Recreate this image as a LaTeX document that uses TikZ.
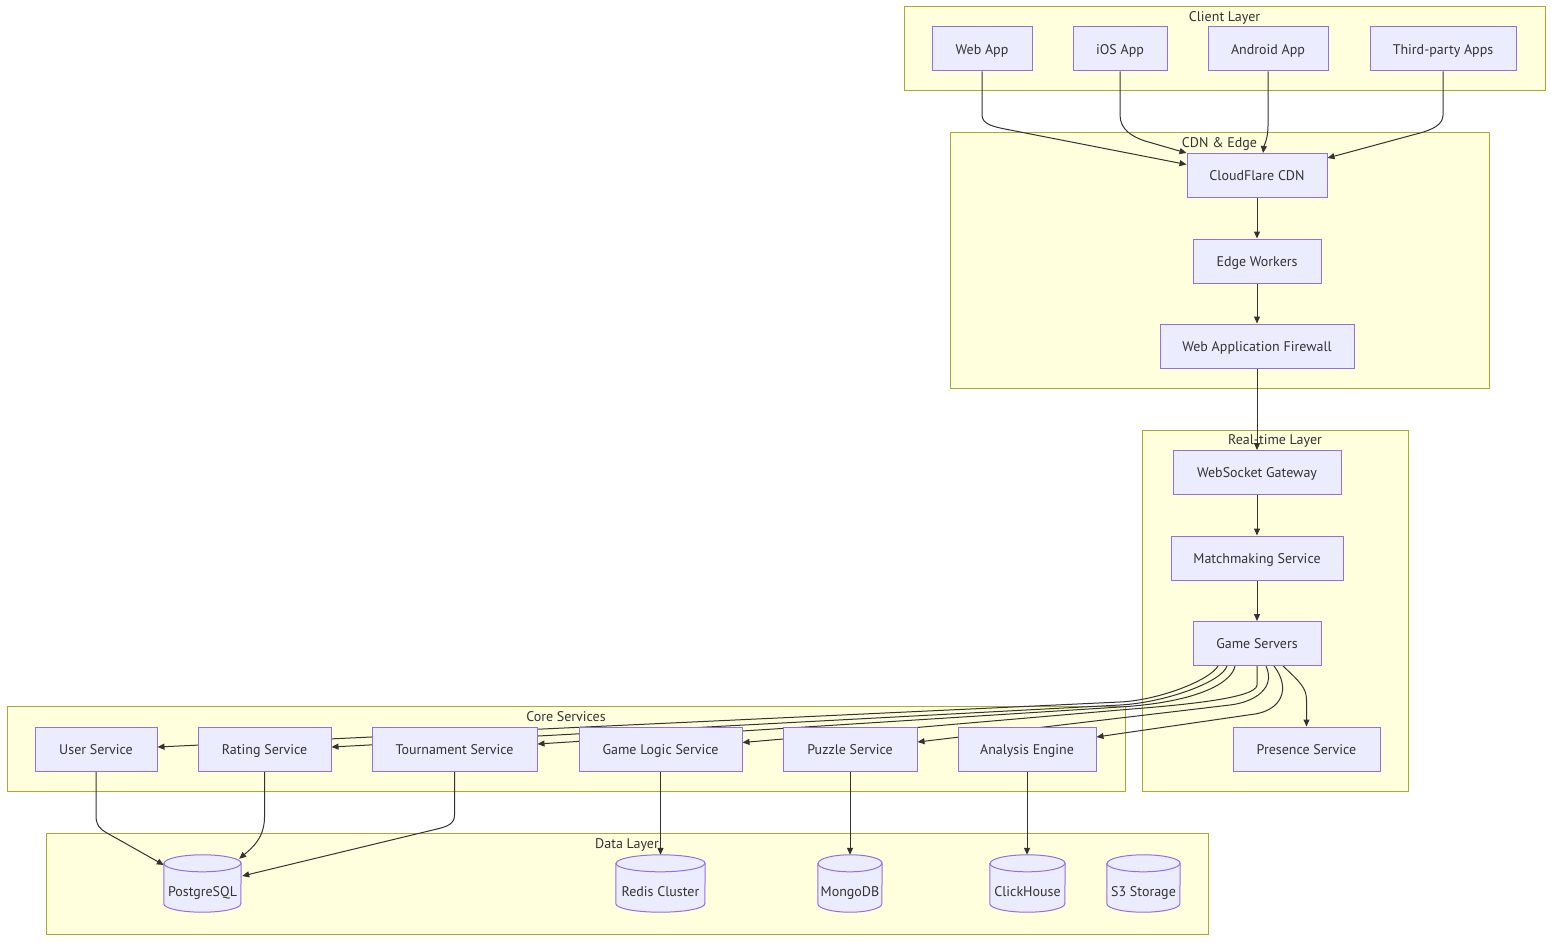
\documentclass[tikz,border=0pt]{standalone}
\usepackage{fontspec}
\setmainfont{PT Sans}
\usetikzlibrary{arrows.meta,calc}
\definecolor{nodefill}{HTML}{ECECFF}
\definecolor{nodeline}{HTML}{9370DB}
\definecolor{clfill}{HTML}{FFFFDE}
\definecolor{clline}{HTML}{AAAA33}
\definecolor{ink}{HTML}{333333}
\pgfdeclarelayer{bg}
\pgfdeclarelayer{edges}
\pgfsetlayers{bg,edges,main}
\newcommand\dbcyl[5]{%
  \path (#2,#3) node[minimum width={2*#4*1pt}, minimum height=57pt, inner sep=0pt, draw=none] (#1) {};
  \draw[dbstyle] ($(#1.north west)+(0,-8.5)$) -- ($(#1.south west)+(0,8.5)$)
    arc[start angle=180, end angle=360, x radius=#4pt, y radius=8.5pt]
    -- ($(#1.north east)+(0,-8.5)$)
    arc[start angle=0, end angle=180, x radius=#4pt, y radius=8.5pt] -- cycle;
  \draw[dbedge] ($(#1.north west)+(0,-8.5)$) arc[start angle=180, end angle=360, x radius=#4pt, y radius=8.5pt];
  \node[txt, inner sep=0pt] (#1-label) at ($(#1.center)+(0,-7.5)$) {#5};
}
\begin{document}
\begin{tikzpicture}[x=1pt, y=1pt, font=\fontsize{14}{16}\selectfont, text=ink,
  txt/.style={text height=12.5pt, text depth=2pt},
  box/.style={txt, draw=nodeline, fill=nodefill, line width=1pt, inner sep=0pt, minimum height=44pt},
  dbstyle/.style={draw=nodeline, fill=nodefill, line width=1pt},
  dbedge/.style={draw=nodeline, line width=1pt},
  cluster/.style={draw=clline, fill=clfill, line width=1pt},
  ctitle/.style={txt, inner sep=0pt},
  conn/.style={draw=ink, line width=1pt, -{Triangle[length=7pt,width=6pt]}}]
\useasboundingbox (0,0) rectangle (1568,-952);

\begin{pgfonlayer}{bg}
  \fill[white] (0,0) rectangle (1568,-952);
  \draw[cluster] (904,-7) rectangle (1545,-91);
  \node[ctitle] (t-client) at (1224.5,-16.5) {Client Layer};
  \draw[cluster] (950,-133) rectangle (1489,-388);
  \node[ctitle] (t-cdn) at (1219.5,-142.5) {CDN \& Edge};
  \draw[cluster] (1142,-430) rectangle (1408,-791);
  \node[ctitle] (t-rt) at (1275,-439.5) {Real-time Layer};
  \draw[cluster] (7,-706) rectangle (1125,-791);
  \node[ctitle] (t-core) at (566,-716.5) {Core Services};
  \draw[cluster] (46,-833) rectangle (1208,-934);
  \node[ctitle] (t-data) at (627,-843.5) {Data Layer};
\end{pgfonlayer}

% client layer
\node[box, minimum width=100pt] (webapp) at (982,-49) {Web App};
\node[box, minimum width=94pt] (ios) at (1120,-49) {iOS App};
\node[box, minimum width=120pt] (android) at (1268,-49) {Android App};
\node[box, minimum width=146pt] (third) at (1443,-49) {Third-party Apps};
% cdn & edge
\node[box, minimum width=140pt] (cdn) at (1257,-175.5) {CloudFlare CDN};
\node[box, minimum width=128pt] (edgew) at (1257,-261) {Edge Workers};
\node[box, minimum width=194pt] (waf) at (1257,-346) {Web Application Firewall};
% real-time
\node[box, minimum width=168pt] (ws) at (1257,-472.5) {WebSocket Gateway};
\node[box, minimum width=172pt] (mm) at (1257,-558) {Matchmaking Service};
\node[box, minimum width=128pt] (gs) at (1257,-643.5) {Game Servers};
\node[box, minimum width=147pt] (presence) at (1306.5,-749) {Presence Service};
% core services
\node[box, minimum width=122pt] (user) at (96,-749) {User Service};
\node[box, minimum width=133pt] (rating) at (264.5,-749) {Rating Service};
\node[box, minimum width=165pt] (tour) at (454.5,-749) {Tournament Service};
\node[box, minimum width=163pt] (gl) at (660.5,-749) {Game Logic Service};
\node[box, minimum width=134pt] (puzzle) at (850,-749) {Puzzle Service};
\node[box, minimum width=138pt] (analysis) at (1027,-749) {Analysis Engine};
% data layer
\dbcyl{pg}{202.5}{-883.5}{38.5}{PostgreSQL}
\dbcyl{redis}{660.5}{-883.5}{44.5}{Redis Cluster}
\dbcyl{mongo}{850}{-883.5}{32}{MongoDB}
\dbcyl{click}{1027.5}{-883.5}{37.5}{ClickHouse}
\dbcyl{s3}{1143.5}{-883.5}{36.5}{S3 Storage}

\begin{pgfonlayer}{edges}
  % clients to CDN
  \draw[conn] (webapp.south) -- (982,-115) .. controls (982,-125) and (995,-127) .. (1010,-130) -- ($(cdn.west)+(0,11)$);
  \draw[conn] (ios.south) -- (1120,-115) .. controls (1120,-130) and (1133,-137) .. (1145,-141) -- (cdn.north west);
  \draw[conn] (android.south) -- (1268,-125) .. controls (1268,-140) and (1264,-145) .. ($(cdn.north)+(6,0)$);
  \draw[conn] (third.south) -- (1443,-115) .. controls (1443,-125) and (1432,-129.6) .. (1420,-133) -- ($(cdn.east)+(0,17.5)$);
  % vertical chain
  \draw[conn] (cdn) -- (edgew);
  \draw[conn] (edgew) -- (waf);
  \draw[conn] (waf) -- (ws);
  \draw[conn] (ws) -- (mm);
  \draw[conn] (mm) -- (gs);
  % game servers fan-out
  \draw[conn] ($(gs.south)+(-39,0)$) .. controls (1210,-680) and (1160,-700) .. (1120,-702) -- ($(user.east)+(0,2)$);
  \draw[conn] ($(gs.south)+(-30,0)$) .. controls (1222,-682) and (1165,-702.6) .. (1120,-705) -- ($(rating.east)+(0,2)$);
  \draw[conn] ($(gs.south)+(-22,0)$) .. controls (1232,-682) and (1200,-702) .. (1120,-707) -- ($(tour.east)+(0,5)$);
  \draw[conn] (gs.south) -- (1257,-685) .. controls (1257,-700) and (1160,-706.6) .. (1120,-710) -- ($(gl.east)+(0,6.5)$);
  \draw[conn] ($(gs.south)+(9,0)$) .. controls (1276,-688) and (1255,-702) .. (1230,-705) -- ($(puzzle.east)+(0,7)$);
  \draw[conn] ($(gs.south)+(17,0)$) .. controls (1292,-690) and (1280,-710) .. (1255,-714) -- ($(analysis.east)+(0,12)$);
  \draw[conn] ($(gs.south)+(26,0)$) .. controls (1300,-682) and (1306.5,-688) .. (1306.5,-700) -- (presence.north);
  % core to data
  \draw[conn] (user.south) -- (96,-815) .. controls (96,-825) and (99,-828.4) .. (107,-833) -- ($(pg.west)+(0,18.5)$);
  \draw[conn] (rating.south) -- (264.5,-817) .. controls (264.5,-838) and (252,-848) .. ($(pg.north east)+(-2,-4)$);
  \draw[conn] (tour.south) -- (454.5,-815) .. controls (454.5,-824) and (447,-826.6) .. (437,-829) -- ($(pg.east)+(1,7.5)$);
  \draw[conn] (gl.south) -- (redis.north);
  \draw[conn] (puzzle.south) -- (mongo.north);
  \draw[conn] (analysis.south) -- (analysis.south |- click.north);
\end{pgfonlayer}
\end{tikzpicture}
\end{document}
